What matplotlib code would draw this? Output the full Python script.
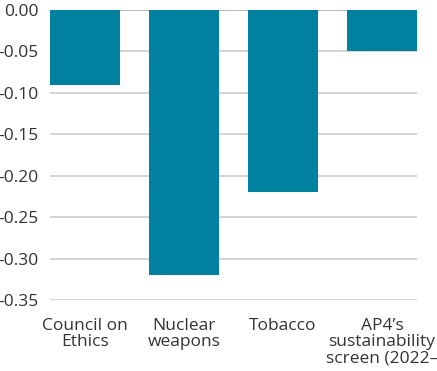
import matplotlib.pyplot as plt

categories = ["Council on\nEthics", "Nuclear\nweapons", "Tobacco",
              "AP4\u2019s\nsustainability\nscreen (2022\u2013"]
values = [-0.09, -0.32, -0.22, -0.05]
yticks = [0.00, -0.05, -0.10, -0.15, -0.20, -0.25, -0.30, -0.35]

plt.rcParams['font.family'] = ['Open Sans', 'DejaVu Sans']
plt.rcParams['axes.unicode_minus'] = False

W, H = 437, 371
fig = plt.figure(figsize=(W / 100, H / 100), dpi=100)
ax = fig.add_axes([50 / W, 1 - 300 / H, 367 / W, 290 / H])

width = 0.707
x = range(len(categories))
ax.bar(x, values, width=width, color="#00819f", zorder=2)

ax.set_xlim(-width / 2, len(categories) - 1 + width / 2)
ax.set_ylim(-0.35, 0)
ax.set_yticks(yticks)
ax.set_yticklabels([f"{v:.2f}" for v in yticks])
ax.set_xticks(list(x))
ax.set_xticklabels(categories, va="top", linespacing=1.03)

for v in yticks:
    ax.axhline(v, color="#aaaaaa" if v == 0 else "#cccccc", lw=1.2, zorder=1)

for s in ax.spines.values():
    s.set_visible(False)
ax.tick_params(axis="both", length=0, labelsize=12.5, colors="#333333")
ax.tick_params(axis="y", pad=8)
ax.tick_params(axis="x", pad=13)

fig.savefig("out.png", dpi=100)
